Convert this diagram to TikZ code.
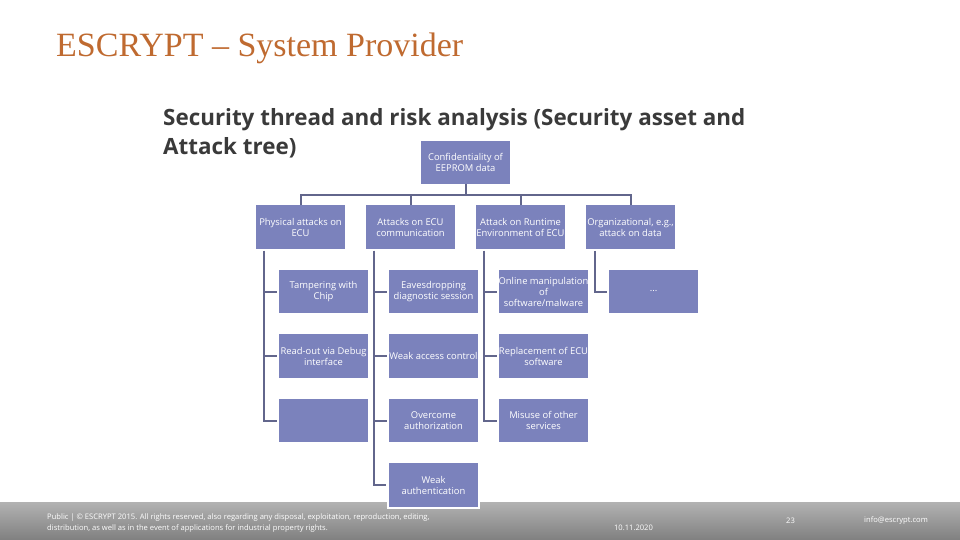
\documentclass[tikz,border=0pt]{standalone}
\usepackage{fontspec}
\setmainfont{Open Sans}
\newfontfamily\titlefont{Liberation Serif}
\usetikzlibrary{positioning}
\definecolor{boxblue}{HTML}{7B82BC}
\definecolor{linegray}{HTML}{62668C}
\definecolor{titleorange}{HTML}{BF6A30}
\definecolor{headgray}{HTML}{3A3A3A}
\tikzset{
  box/.style={fill=boxblue, text=white, minimum width=89pt, minimum height=43.5pt, inner sep=0pt, outer sep=0pt, align=center, font=\fontsize{9.4}{11}\selectfont},
  tick/.style={draw=linegray, line width=2pt, shorten >=2pt},
  foot/.style={text=white, inner sep=0pt, font=\fontsize{7.6}{11}\selectfont},
}
\begin{document}
\begin{tikzpicture}[x=1pt, y=-1pt, node distance=21pt]
        \useasboundingbox (0,0) rectangle (960,540);
        \shade[top color=black!30, bottom color=black!50] (0,502) rectangle (960,540);

        \node[anchor=west, inner sep=0pt, text=titleorange, font=\titlefont\fontsize{34}{38}\selectfont] (title) at (56,48) {ESCRYPT – System Provider};
        \node[anchor=north west, inner sep=0pt, align=left, text=headgray, font=\bfseries\fontsize{22.4}{29}\selectfont] (head) at (163,108) {Security thread and risk analysis (Security asset and\\Attack tree)};

        \node[box]                                (root)    at (465.5,162.5) {Confidentiality of\\EEPROM data};
        \node[box, below=of root, xshift=-55pt]   (comm)    {Attacks on ECU\\communication};
        \node[box, left=of comm]                  (phys)    {Physical attacks on\\ECU};
        \node[box, right=of comm]                 (runtime) {Attack on Runtime\\Environment of ECU};
        \node[box, right=of runtime]              (orga)    {Organizational, e.g.,\\attack on data};

        \node[box, below=of phys, xshift=23pt]    (tamper)  {Tampering with\\Chip};
        \node[box, below=of tamper]               (debug)   {Read-out via Debug\\interface};
        \node[box, below=of debug]                (empty)   {};

        \node[box, below=of comm, xshift=23pt]    (eaves)   {Eavesdropping\\diagnostic session};
        \node[box, below=of eaves]                (access)  {Weak access control};
        \node[box, below=of access]               (overc)   {Overcome\\authorization};

        \node[box, below=of runtime, xshift=23pt] (online)  {Online manipulation\\of\\software/malware};
        \node[box, below=of online]               (replace) {Replacement of ECU\\software};
        \node[box, below=of replace]              (misuse)  {Misuse of other\\services};

        \node[box, below=of orga, xshift=23pt]    (dots)    {...};

        \node[box, below=20pt of overc, draw=white, line width=2pt, minimum width=91pt, minimum height=45.5pt] (weak) {Weak\\authentication};

        \draw[tick, shorten >=0pt] (root.south) -- ++(0,11) -| (phys.north);
        \draw[tick, shorten >=0pt] (root.south) -- ++(0,11) -| (comm.north);
        \draw[tick, shorten >=0pt] (root.south) -- ++(0,11) -| (runtime.north);
        \draw[tick, shorten >=0pt] (root.south) -- ++(0,11) -| (orga.north);

        \foreach \kid in {tamper, debug, empty}
          \draw[tick] ([xshift=8pt,yshift=-2pt]phys.south west) |- (\kid.west);
        \foreach \kid in {eaves, access, overc, weak}
          \draw[tick] ([xshift=8pt,yshift=-2pt]comm.south west) |- (\kid.west);
        \foreach \kid in {online, replace, misuse}
          \draw[tick] ([xshift=8pt,yshift=-2pt]runtime.south west) |- (\kid.west);
        \draw[tick] ([xshift=9pt,yshift=-2pt]orga.south west) |- (dots.west);

        \node[foot, anchor=west, align=left] (legal) at (47,523.5) {Public | © ESCRYPT 2015. All rights reserved, also regarding any disposal, exploitation, reproduction, editing,\\distribution, as well as in the event of applications for industrial property rights.};
        \node[foot] (date) at (633.5,527.5) {10.11.2020};
        \node[foot] (page) at (790.5,521) {23};
        \node[foot] (mail) at (896,521) {info@escrypt.com};
      \end{tikzpicture}
\end{document}
